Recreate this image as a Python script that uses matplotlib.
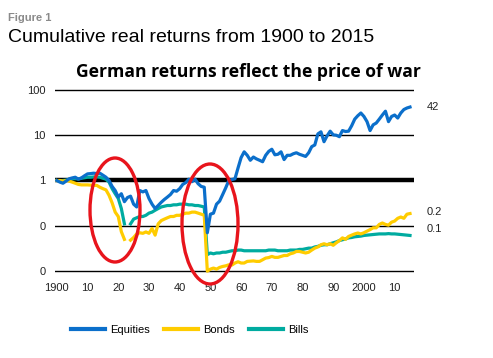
import numpy as np
import matplotlib
matplotlib.use("Agg")
import matplotlib.pyplot as plt
from matplotlib.patches import Ellipse
from matplotlib.lines import Line2D

years = list(range(1900, 2016))

equities = [
    1.00, 0.92, 0.87, 0.97, 1.09, 1.14, 1.18, 1.07, 1.14, 1.27,   # 1900-09
    1.40, 1.42, 1.45, 1.42, 1.45, 1.31, 1.18, 1.00, 0.74, 0.60,   # 1910-19
    0.43, 0.51, 0.34, 0.42, 0.45, 0.30, 0.26, 0.60, 0.56, 0.60,   # 1920-29
    0.40, 0.30, 0.24, 0.28, 0.33, 0.38, 0.43, 0.49, 0.60, 0.58,   # 1930-39
    0.66, 0.82, 0.90, 1.07, 0.94, 1.07, 0.85, 0.74, 0.71, 0.070,  # 1940-49
    0.18, 0.19, 0.30, 0.35, 0.49, 0.69, 1.00, 1.05, 1.09, 1.89,   # 1950-59
    3.2, 4.3, 3.6, 2.8, 3.3, 3.0, 2.8, 2.6, 3.6, 4.4,             # 1960-69
    4.9, 3.7, 3.8, 4.3, 2.9, 3.6, 3.6, 3.9, 4.1, 3.8,             # 1970-79
    3.6, 3.4, 4.1, 5.6, 6.1, 10.7, 11.9, 7.2, 9.7, 12.3,          # 1980-89
    10.2, 10.0, 9.3, 12.7, 12.1, 12.3, 16.2, 22.7, 27, 31,        # 1990-99
    26, 20, 12.7, 17, 18.6, 22.7, 28, 34, 20, 26,                 # 2000-09
    28, 24, 31, 37, 40, 42,                                       # 2010-15
]

bonds = [
    1.00, 1.00, 0.97, 1.00, 0.97, 0.92, 0.87, 0.82, 0.80, 0.80,
    0.80, 0.79, 0.78, 0.78, 0.71, 0.66, 0.62, 0.47, 0.32, 0.20,
    0.16, 0.074, 0.050, np.nan, 0.048, 0.055, 0.066, 0.070, 0.068, 0.073,
    0.068, 0.087, 0.062, 0.11, 0.13, 0.14, 0.15, 0.16, 0.16, 0.17,
    0.17, 0.18, 0.19, 0.19, 0.20, 0.20, 0.19, 0.18, 0.17, 0.0099,
    0.011, 0.0116, 0.011, 0.012, 0.0126, 0.013, 0.0137, 0.0135, 0.015, 0.016,
    0.015, 0.015, 0.0163, 0.0165, 0.0167, 0.0163, 0.0163, 0.0177, 0.0193, 0.0198,
    0.021, 0.020, 0.020, 0.021, 0.022, 0.022, 0.024, 0.025, 0.027, 0.027,
    0.026, 0.025, 0.026, 0.029, 0.032, 0.034, 0.038, 0.040, 0.038, 0.040,
    0.037, 0.042, 0.047, 0.054, 0.050, 0.058, 0.062, 0.066, 0.069, 0.066,
    0.070, 0.076, 0.082, 0.090, 0.090, 0.107, 0.115, 0.107, 0.103, 0.12,
    0.127, 0.146, 0.156, 0.146, 0.18, 0.186,
]

bills = [
    1.00, 0.98, 1.00, 1.02, 1.05, 1.09, 1.10, 1.08, 1.12, 1.15,
    1.18, 1.18, 1.20, 1.20, 1.18, 1.12, 1.07, 0.92, 0.66, 0.51,
    0.40, 0.24, 0.11, np.nan, 0.11, 0.14, 0.15, 0.16, 0.16, 0.17,
    0.19, 0.20, 0.22, 0.24, 0.26, 0.27, 0.28, 0.28, 0.29, 0.29,
    0.30, 0.30, 0.30, 0.29, 0.29, 0.28, 0.28, 0.27, 0.26, 0.023,
    0.025, 0.024, 0.025, 0.025, 0.026, 0.026, 0.027, 0.028, 0.028, 0.029,
    0.029, 0.028, 0.028, 0.028, 0.028, 0.028, 0.028, 0.028, 0.028, 0.029,
    0.029, 0.029, 0.028, 0.028, 0.028, 0.028, 0.029, 0.029, 0.029, 0.030,
    0.030, 0.031, 0.032, 0.032, 0.034, 0.035, 0.037, 0.038, 0.038, 0.040,
    0.042, 0.044, 0.047, 0.049, 0.051, 0.054, 0.055, 0.057, 0.058, 0.059,
    0.061, 0.062, 0.063, 0.064, 0.065, 0.066, 0.066, 0.066, 0.067, 0.066,
    0.066, 0.065, 0.064, 0.063, 0.062, 0.061,
]

series_names = ["Equities", "Bonds", "Bills"]
series_colors = ["#0b6fcb", "#ffcc00", "#00aba0"]

ytick_vals = [0.01, 0.1, 1, 10, 100]
ytick_labels = ["0", "0", "1", "10", "100"]
xtick_vals = [1900, 1910, 1920, 1930, 1940, 1950, 1960, 1970, 1980, 1990, 2000, 2010]
xtick_labels = ["1900", "10", "20", "30", "40", "50", "60", "70", "80", "90", "2000", "10"]
end_labels = ["42", "0.2", "0.1"]

W, H = 493, 358
plt.rcParams['font.family'] = ['Liberation Sans', 'DejaVu Sans']
fig = plt.figure(figsize=(W / 100, H / 100), dpi=100)

def fx(px):
    return px / W

def fy(py):
    return 1 - py / H

left, right, top, bottom = 55, 414, 88, 273
ax = fig.add_axes([fx(left), fy(bottom), fx(right - left), (bottom - top) / H])
ax.set_yscale('log')
ax.set_xlim(1899.4, 2016.3)
ax.set_ylim(0.00903, 110.7)

for v in ytick_vals:
    if v == 1:
        ax.axhline(v, color='black', lw=3.2, zorder=1)
    else:
        ax.axhline(v, color='black', lw=1.0, zorder=1)

for vals, col in zip([bills, bonds, equities], [series_colors[2], series_colors[1], series_colors[0]]):
    ax.plot(years, vals, color=col, lw=2.3, zorder=3, solid_joinstyle='round')

for s in ax.spines.values():
    s.set_visible(False)
ax.set_yticks(ytick_vals)
ax.set_yticklabels(ytick_labels)
ax.yaxis.set_minor_locator(matplotlib.ticker.NullLocator())
ax.set_xticks(xtick_vals)
ax.set_xticklabels(xtick_labels)
ax.tick_params(axis='both', length=0, labelsize=8, colors='#222222')
ax.tick_params(axis='y', pad=7)
ax.tick_params(axis='x', pad=7)

ax.text(1.035, 42, end_labels[0], transform=ax.get_yaxis_transform(), fontsize=8, va='center', ha='left', color='#222222')
ax.text(1.035, 0.2, end_labels[1], transform=ax.get_yaxis_transform(), fontsize=8, va='center', ha='left', color='#222222')
ax.text(1.035, 0.086, end_labels[2], transform=ax.get_yaxis_transform(), fontsize=8, va='center', ha='left', color='#222222')

# red ellipses (annotation)
for cx, cy, w, h in [(115, 210, 50, 104), (210, 224, 56, 120)]:
    e = Ellipse((fx(cx), fy(cy)), fx(w), h / H, transform=fig.transFigure,
                fill=False, edgecolor='#e8141c', lw=2.4, zorder=5)
    fig.patches.append(e)

fig.text(fx(8), fy(18), "Figure 1", fontsize=8, color='#8a8a8a', fontweight='bold', va='center', ha='left')
fig.text(fx(8), fy(37), "Cumulative real returns from 1900 to 2015", fontsize=14, color='black', va='center', ha='left')
fig.text(fx(248), fy(72), "German returns reflect the price of war", fontsize=12.6, fontweight='bold',
         family=['Open Sans', 'DejaVu Sans'], color='black', va='center', ha='center')

handles = [Line2D([], [], color=c, lw=3) for c in series_colors]
fig.legend(handles, series_names, loc='center', bbox_to_anchor=(fx(190), fy(330)), ncol=3, frameon=False,
           fontsize=8, handlelength=3.0, columnspacing=1.3, handletextpad=0.5)

fig.savefig("out.png", dpi=100)
